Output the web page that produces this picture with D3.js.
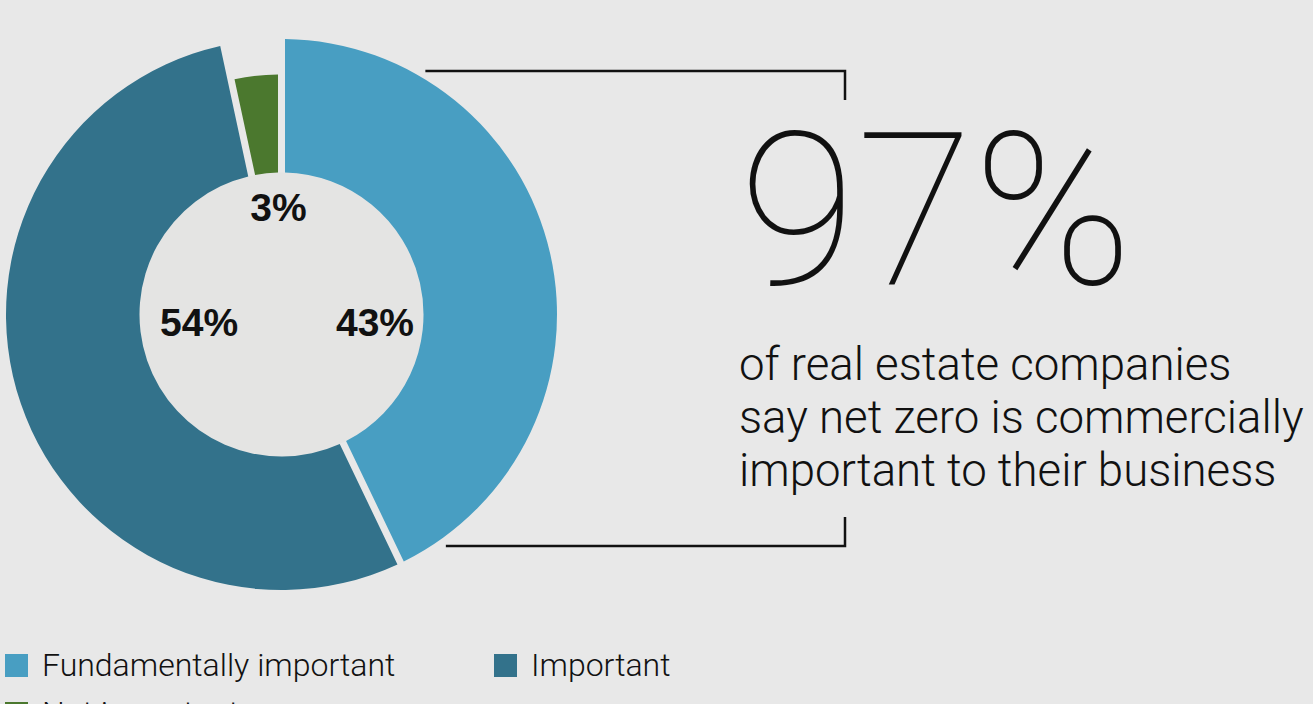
<!DOCTYPE html>
<html>
<head>
<meta charset="utf-8">
<script src="https://cdn.jsdelivr.net/npm/d3@7"></script>
<style>
  html, body { margin: 0; padding: 0; background: #e8e8e8; }
  svg { display: block; }
</style>
</head>
<body>
<svg id="chart" width="1313" height="704"></svg>
<script>
// Survey answers: how commercially important is net zero
const categories = ["Fundamentally important", "Important", "Not important"];
const shares = [43, 54, 3];
const colors = ["#489ec2", "#33728b", "#4b782e"];
const headline = "97%";
const statement = [
  "of real estate companies",
  "say net zero is commercially",
  "important to their business"
];

const W = 1313, H = 704;
const svg = d3.select("#chart");

// Donut geometry
const cx = 281.5, cy = 314.5;
const outerR = 275.5, innerR = 142, minorOuterR = 240;
const gap = 7;

const rows = categories.map((c, i) => ({ name: c, value: shares[i], color: colors[i] }));

const pie = d3.pie().sort(null).value(d => d.value)
  .startAngle(0).endAngle(2 * Math.PI)
  .padAngle(gap / outerR);

const arc = d3.arc()
  .innerRadius(innerR)
  .outerRadius(d => d.data.name === "Not important" ? minorOuterR : outerR)
  .padRadius(outerR);

const g = svg.append("g").attr("transform", `translate(${cx},${cy})`);

g.append("circle").attr("r", innerR).attr("fill", "#e4e4e3");

const arcs = pie(rows);
g.selectAll("path.slice").data(arcs).join("path")
  .attr("class", "slice")
  .attr("d", arc)
  .attr("fill", d => d.data.color);

// Value labels sit inside the hole, on the side of each slice
const fmt = d => d3.format("d")(d.data.value) + "%";
const labelFont = "'Liberation Sans', Arial, Helvetica, sans-serif";
arcs.forEach(d => {
  const mid = (d.startAngle + d.endAngle) / 2;
  const quarter = Math.round(mid / (Math.PI / 2)) % 4; // 0 top, 1 right, 2 bottom, 3 left
  const t = g.append("text")
    .text(fmt(d))
    .attr("font-family", labelFont)
    .attr("font-weight", "bold")
    .attr("font-size", 39)
    .attr("fill", "#111");
  if (quarter === 1) {
    t.attr("text-anchor", "end").attr("x", innerR - 9.5).attr("y", 21.5);
  } else if (quarter === 3) {
    t.attr("text-anchor", "start").attr("x", -(innerR - 20.5)).attr("y", 21.5);
  } else {
    t.attr("text-anchor", "middle").attr("x", -3).attr("y", -(innerR - 48.5));
  }
});

// Bracket connecting the donut to the headline figure
const bracketRight = 845, topY = 71, botY = 546, tick = 29, lead = 15;
const edgeX = y => cx + Math.sqrt(outerR * outerR - (y - cy) * (y - cy)) + lead;
const bracket = svg.append("g")
  .attr("fill", "none").attr("stroke", "#111").attr("stroke-width", 2.5);
bracket.append("path")
  .attr("d", `M${edgeX(topY)},${topY}H${bracketRight}V${topY + tick}`);
bracket.append("path")
  .attr("d", `M${edgeX(botY)},${botY}H${bracketRight}V${botY - tick}`);

// Headline figure and statement
const textFont = "Roboto, 'Noto Sans', sans-serif";
svg.append("text")
  .attr("x", 739).attr("y", 284)
  .attr("font-family", textFont)
  .attr("font-weight", 100)
  .attr("font-size", 214)
  .attr("fill", "#111")
  .text(headline);

svg.append("g").selectAll("text").data(statement).join("text")
  .attr("x", 739)
  .attr("y", (d, i) => 380 + i * 53)
  .attr("font-family", textFont)
  .attr("font-weight", 300)
  .attr("font-size", 45.6)
  .attr("fill", "#111")
  .text(d => d);

// Legend, two columns
const legend = svg.append("g");
const item = legend.selectAll("g").data(rows).join("g")
  .attr("transform", (d, i) => `translate(${5 + (i % 2) * 489},${654 + Math.floor(i / 2) * 48})`);
item.append("rect").attr("width", 23).attr("height", 23).attr("fill", d => d.color);
item.append("text")
  .attr("x", 37).attr("y", 22)
  .attr("font-family", textFont)
  .attr("font-weight", 300)
  .attr("font-size", 32)
  .attr("fill", "#111")
  .text(d => d.name);
</script>
</body>
</html>
